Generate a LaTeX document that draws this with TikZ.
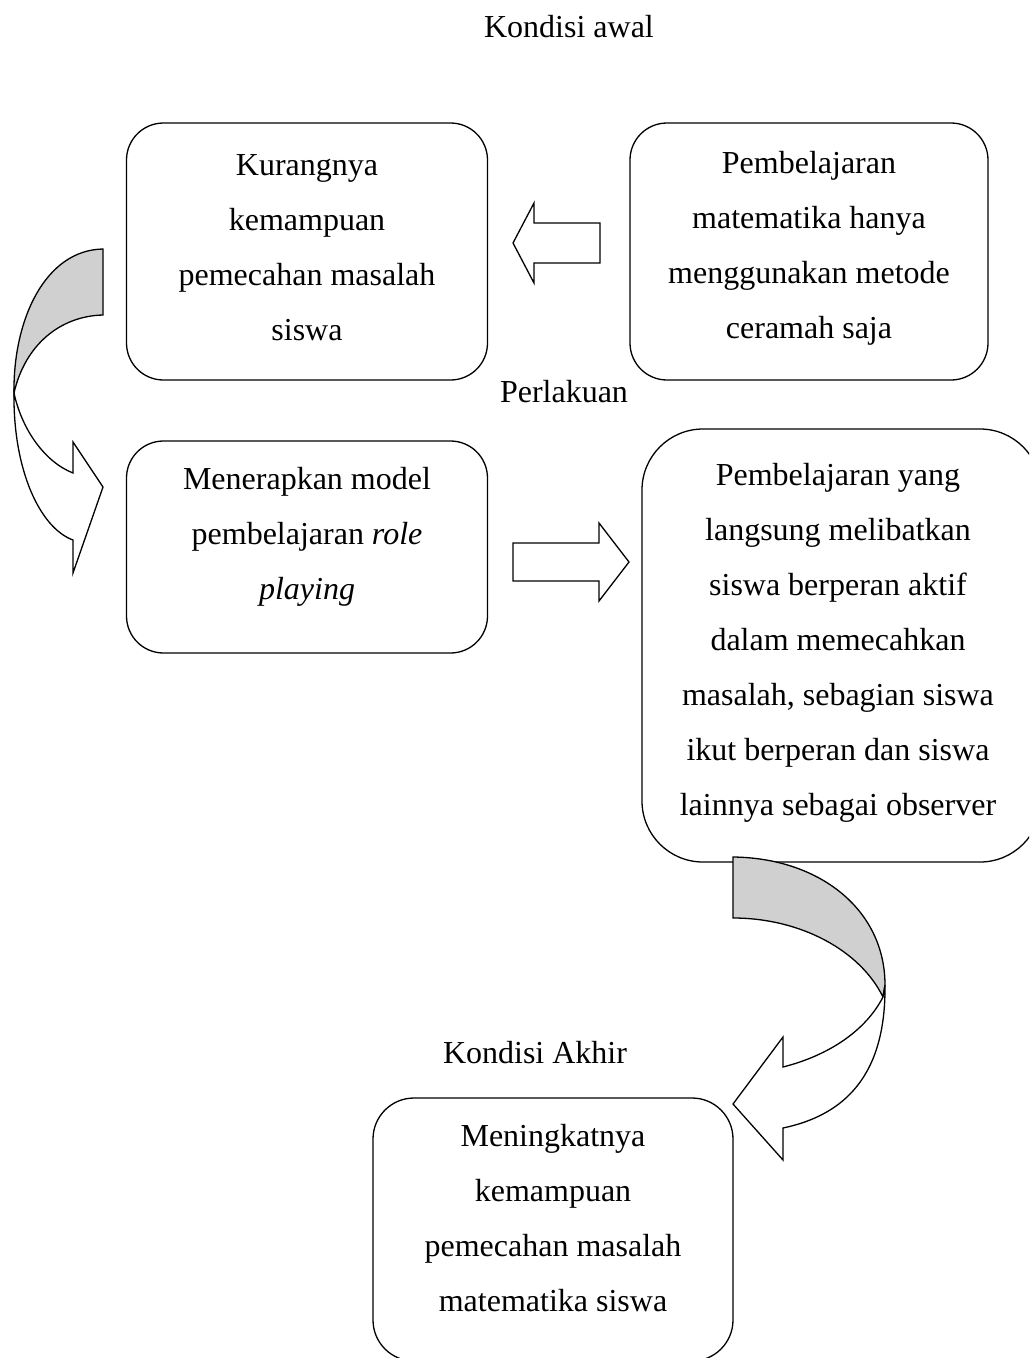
\documentclass[tikz,border=0pt]{standalone}
\usepackage{fontspec}
\setmainfont{Liberation Serif}
\definecolor{backgray}{RGB}{208,208,208}
\begin{document}
\begin{tikzpicture}[x=1pt,y=-1pt,
  box/.style={draw=black,line width=1.3pt,rounded corners=#1,inner sep=0pt},
  box/.default=37pt,
  txt/.style={align=center,font=\fontsize{32}{55}\selectfont,inner sep=0pt},
  lbl/.style={font=\fontsize{32}{38}\selectfont,inner sep=0pt},
  bigarrow/.style={draw=black,line width=1.3pt,fill=white,line join=miter},
  backface/.style={draw=black,line width=1.3pt,fill=backgray}]
\useasboundingbox (0,0) rectangle (1029,1358);
\clip (0,0) rectangle (1029,1358);

% titles
\node[lbl] (t1) at (569,27) {Kondisi awal};
\node[lbl] (t2) at (564,392) {Perlakuan};
\node[lbl] (t3) at (535,1053) {Kondisi Akhir};

% boxes
\node[box, minimum width=361pt, minimum height=257pt] (a) at (307,251.5) {};
\node[txt] (at) at (307,248) {Kurangnya\\kemampuan\\pemecahan masalah\\siswa};

\node[box, minimum width=358pt, minimum height=257pt] (b) at (809,251.5) {};
\node[txt] (bt) at (809,248) {Pembelajaran\\matematika hanya\\menggunakan metode\\ceramah saja};

\node[box, minimum width=361pt, minimum height=212pt] (c) at (307,547) {};
\node[txt] (ct) at (307,537) {Menerapkan model\\pembelajaran \textit{role}\\\textit{playing}};

\node[box=61pt, minimum width=399pt, minimum height=433pt] (d) at (841.5,645.5) {};
\node[txt] (dt) at (838,643) {Pembelajaran yang\\langsung melibatkan\\siswa berperan aktif\\dalam memecahkan\\masalah, sebagian siswa\\ikut berperan dan siswa\\lainnya sebagai observer};

\node[box=41pt, minimum width=360pt, minimum height=263pt] (e) at (553,1229.5) {};
\node[txt] (et) at (553,1218) {Meningkatnya\\kemampuan\\pemecahan masalah\\matematika siswa};

% straight block arrows
\draw[bigarrow] (600,223) -- (534,223) -- (534,203) -- (513,243) -- (534,283) -- (534,263) -- (600,263) -- cycle;
\draw[bigarrow] (513,543) -- (599,543) -- (599,523) -- (629,562) -- (599,601) -- (599,581) -- (513,581) -- cycle;

% curved arrow left (A -> C)
\draw[backface] (103,249) .. controls (45,250) and (13,320) .. (14,393)
  .. controls (25,345) and (60,316) .. (103,315) -- cycle;
\draw[bigarrow] (14,393) .. controls (13,470) and (40,528) .. (73,540)
  -- (73,573) -- (103,487) -- (73,442) -- (73,473)
  .. controls (45,462) and (22,430) .. (14,393) -- cycle;

% curved arrow right (D -> E)
\draw[backface] (733,857) .. controls (820,858) and (885,910) .. (885,985)
  -- (883,997) .. controls (860,950) and (800,918) .. (733,918) -- cycle;
\draw[bigarrow] (885,985) .. controls (886,1075) and (845,1115) .. (783,1128)
  -- (783,1160) -- (733,1104) -- (783,1037) -- (783,1067)
  .. controls (830,1055) and (866,1030) .. (883,997) -- cycle;
\end{tikzpicture}
\end{document}
